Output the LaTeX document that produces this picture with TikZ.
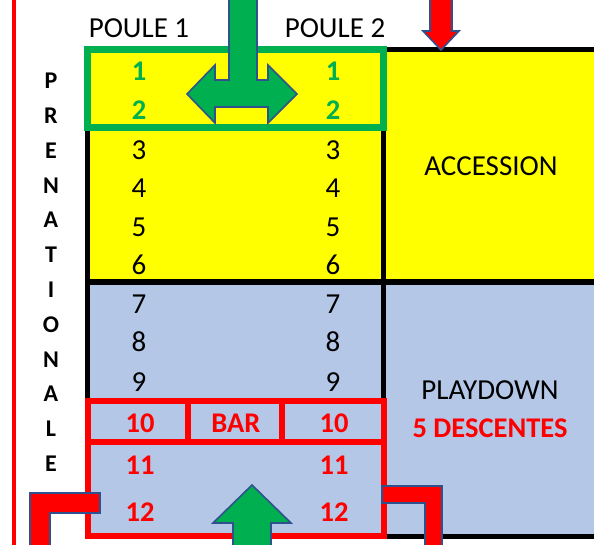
\documentclass[tikz,border=0pt]{standalone}
\usepackage{fontspec}
\setmainfont{Carlito}
\definecolor{jaune}{HTML}{FFFF00}
\definecolor{bleu}{HTML}{B4C7E7}
\definecolor{vert}{HTML}{00B050}
\definecolor{rouge}{HTML}{FF0000}
\definecolor{contour}{HTML}{2F528F}
\begin{document}
\begin{tikzpicture}[x=1pt,y=-1pt]
            \tikzset{
                txt/.style={font=\fontsize{29}{32}\selectfont,inner sep=0pt},
                txtb/.style={font=\fontsize{28.5}{32}\selectfont\bfseries,inner sep=0pt},
                lettre/.style={font=\fontsize{24}{28}\selectfont\bfseries,inner sep=0pt},
                fleche/.style={draw=contour,line width=1.6pt,line join=miter},}
            \def\flecheT{(229,-5) -- (229,80) -- (215,80) -- (215,65) -- (187,94) -- (215,123) -- (215,107) -- (268,107) -- (268,123) -- (297,94) -- (268,65) -- (268,80) -- (257,80) -- (257,-5) -- cycle}
            \def\flecheBas{(430,-5) -- (430,31) -- (423,31) -- (441,50) -- (459,31) -- (452,31) -- (452,-5) -- cycle}
            \def\flecheHaut{(233,550) -- (233,523) -- (213,523) -- (252,485) -- (291,523) -- (271,523) -- (271,550) -- cycle}
            \useasboundingbox (0,0) rectangle (594,545);
            % fonds
            \fill [jaune] (87.5,50) rectangle (594,282);
            \fill [bleu] (87.5,282) rectangle (594,536);
            \draw [rouge,line width=4pt] (14,-2) -- (14,547);
            % grille noire
            \draw [line width=5pt] (87.5,50) -- (594,50) (87.5,282) -- (594,282) (383.5,536) -- (594,536);
            \draw [line width=5pt] (87.5,50) -- (87.5,536) (383.5,50) -- (383.5,536);
            % cadres vert et rouge
            \draw [vert,line width=7pt] (87.5,49.5) rectangle (383.5,128);
            \draw [rouge,line width=6pt] (87.5,401) rectangle (383.5,536) (87.5,442) -- (383.5,442) (188,401) -- (188,442) (282,401) -- (282,442);
            % titres
            \node [txt] (poule1) at (139,28) {POULE 1};
            \node [txt] (poule2) at (335,28) {POULE 2};
            \foreach \l [count=\k] in {P,R,E,N,A,T,I,O,N,A,L,E}
                \node [lettre] (lettre\k) at (51,{46.2+34.8*\k}) {\l};
            % places
            \foreach \i/\y in {1/71,2/110}{
                \node [txtb,text=vert] (g\i) at (139,\y) {\i};
                \node [txtb,text=vert] (d\i) at (333,\y) {\i};}
            \foreach \i/\y in {3/150,4/188,5/227,6/265,7/304,8/342,9/382}{
                \node [txt] (g\i) at (139,\y) {\i};
                \node [txt] (d\i) at (333,\y) {\i};}
            \foreach \i/\y in {10/423,11/465,12/512}{
                \node [txtb,text=rouge] (g\i) at (140,\y) {\i};
                \node [txtb,text=rouge] (d\i) at (334,\y) {\i};}
            \node [txtb,text=rouge] (bar) at (236,423) {BAR};
            \node [txt] (accession) at (491,166) {ACCESSION};
            \node [txt] (playdown) at (490,390) {PLAYDOWN};
            \node [txtb,text=rouge] (descentes) at (490,428) {5 DESCENTES};
            % fleches
            \filldraw [fleche,fill=vert] \flecheT;
            \filldraw [fleche,fill=rouge] \flecheBas;
            \filldraw [fleche,fill=vert] \flecheHaut;
            \filldraw [fleche,fill=rouge] (30,550) -- (30,493) -- (100,493) -- (100,513) -- (50,513) -- (50,550) -- cycle;
            \filldraw [fleche,fill=rouge] (382,486) -- (442,486) -- (442,550) -- (425,550) -- (425,503) -- (382,503) -- cycle;
        \end{tikzpicture}
\end{document}
